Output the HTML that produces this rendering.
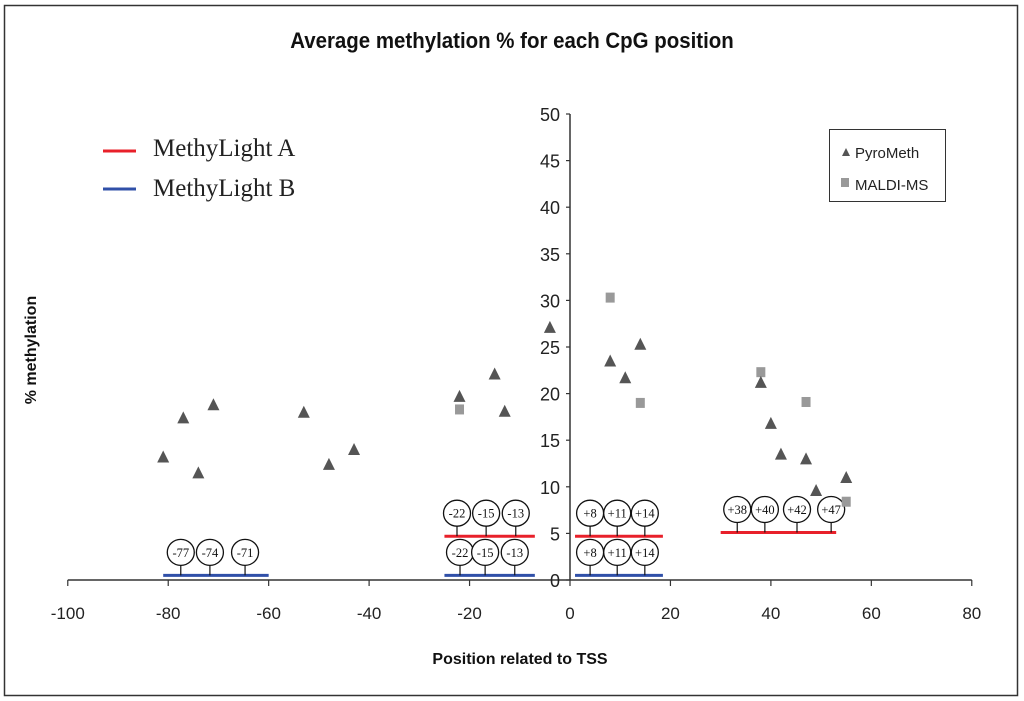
<!DOCTYPE html>
<html><head><meta charset="utf-8"><style>
html,body{margin:0;padding:0;background:#fff;width:1024px;height:701px;overflow:hidden}
svg{display:block}
</style></head><body>
<svg id="chart" width="1024" height="701" xmlns="http://www.w3.org/2000/svg">
<rect x="4.5" y="5.5" width="1013" height="690" fill="#fff" stroke="#333" stroke-width="1.5"/>
<text x="512" y="48" text-anchor="middle" font-family="Liberation Sans, sans-serif" font-weight="bold" font-size="22" fill="#111" transform="translate(512 0) scale(0.93 1) translate(-512 0)">Average methylation % for each CpG position</text>
<text x="36" y="350" transform="rotate(-90 36 350)" text-anchor="middle" font-family="Liberation Sans, sans-serif" font-weight="bold" font-size="16" fill="#111">% methylation</text>
<text x="520" y="664" text-anchor="middle" font-family="Liberation Sans, sans-serif" font-weight="bold" font-size="16" fill="#111">Position related to TSS</text>
<g>
<line x1="103" y1="151" x2="136" y2="151" stroke="#e8202a" stroke-width="3"/>
<text x="153" y="156" font-family="Liberation Serif, serif" font-size="25" fill="#222">MethyLight A</text>
<line x1="103" y1="189" x2="136" y2="189" stroke="#3050a8" stroke-width="3"/>
<text x="153" y="196" font-family="Liberation Serif, serif" font-size="25" fill="#222">MethyLight B</text>
</g>
<g>
<rect x="829.5" y="129.5" width="116" height="72" fill="#fff" stroke="#333" stroke-width="1"/>
<polygon points="842,156 850,156 846,148" fill="#555"/>
<text x="855" y="158" font-family="Liberation Sans, sans-serif" font-size="15" fill="#222">PyroMeth</text>
<rect x="841" y="178" width="8" height="9" fill="#999"/>
<text x="855" y="190" font-family="Liberation Sans, sans-serif" font-size="15" fill="#222">MALDI-MS</text>
</g>
<g id="axes"></g>
<g id="annots"></g>
<g id="marks"></g>
</svg>
<script>
const xTicks=[-100,-80,-60,-40,-20,0,20,40,60,80];
const yTicks=[0,5,10,15,20,25,30,35,40,45,50];
const pyroX=[-81,-77,-74,-71,-53,-48,-43,-22,-15,-13,-4,8,11,14,38,40,42,47,49,55];
const pyroY=[13.2,17.4,11.5,18.8,18.0,12.4,14.0,19.7,22.1,18.1,27.1,23.5,21.7,25.3,21.2,16.8,13.5,13.0,9.6,11.0];
const maldiX=[-22,8,14,38,47,55];
const maldiY=[18.3,30.3,19.0,22.3,19.1,8.4];
const annotLines=[
 {color:"#3050a8",y:0.5,x0:-81,x1:-60,labels:["-77","-74","-71"],pos:[-77.5,-71.7,-64.7]},
 {color:"#e8202a",y:4.7,x0:-25,x1:-7,labels:["-22","-15","-13"],pos:[-22.5,-16.7,-10.8]},
 {color:"#3050a8",y:0.5,x0:-25,x1:-7,labels:["-22","-15","-13"],pos:[-21.9,-16.9,-11]},
 {color:"#e8202a",y:4.7,x0:1,x1:18.5,labels:["+8","+11","+14"],pos:[4,9.4,14.9]},
 {color:"#3050a8",y:0.5,x0:1,x1:18.5,labels:["+8","+11","+14"],pos:[4,9.4,14.9]},
 {color:"#e8202a",y:5.1,x0:30,x1:53,labels:["+38","+40","+42","+47"],pos:[33.3,38.8,45.2,52]}
];
const X=v=>570+(v)*904/180;
const Y=v=>580-v*466/50;
const NS="http://www.w3.org/2000/svg";
function mk(tag,attrs,parent){const e=document.createElementNS(NS,tag);for(const k in attrs)e.setAttribute(k,attrs[k]);parent.appendChild(e);return e;}
const axes=document.getElementById('axes');
let xa=mk('line',{x1:X(-100),y1:580,x2:X(80),y2:580,stroke:'#333','stroke-width':1.5},axes);


let ya=mk('line',{x1:570,y1:Y(0),x2:570,y2:Y(50),stroke:'#333','stroke-width':1.5},axes);


xTicks.forEach(t=>{
 const l=mk('line',{x1:X(t),y1:580,x2:X(t),y2:586,stroke:'#333','stroke-width':1.2},axes);
 
 
 const tx=mk('text',{x:X(t),y:619,'text-anchor':'middle','font-family':'Liberation Sans, sans-serif','font-size':17,fill:'#222'},axes);
 tx.textContent=t;
 
 
});
yTicks.forEach(t=>{
 const l=mk('line',{x1:566,y1:Y(t),x2:570,y2:Y(t),stroke:'#333','stroke-width':1.2},axes);
 
 
 const tx=mk('text',{x:560,y:Y(t)+7,'text-anchor':'end','font-family':'Liberation Sans, sans-serif','font-size':18,fill:'#222'},axes);
 tx.textContent=t;
 
 
});
const an=document.getElementById('annots');
annotLines.forEach(a=>{
 const ly=Y(a.y);
 const l=mk('line',{x1:X(a.x0),y1:ly,x2:X(a.x1),y2:ly,stroke:a.color,'stroke-width':3},an);
 
 
 a.labels.forEach((lab,i)=>{
  const cx=X(a.pos[i]);const cy=ly-23;
  const s=mk('line',{x1:cx,y1:ly,x2:cx,y2:cy+12,stroke:'#111','stroke-width':1.2},an);
  
  
  const e=mk('ellipse',{cx:cx,cy:cy,rx:13.5,ry:13,fill:'#fff',stroke:'#111','stroke-width':1.3},an);
  
  
  const t=mk('text',{x:cx,y:cy+4.5,'text-anchor':'middle','font-family':'Liberation Serif, serif','font-size':12.5,fill:'#111'},an);
  t.textContent=lab;
  
  
 });
});
const mg=document.getElementById('marks');
maldiX.forEach((x,i)=>{
 const px=X(x),py=Y(maldiY[i]);
 const r=mk('rect',{x:px-4.5,y:py-5,width:9,height:10,fill:'#999'},mg);
 
 
});
pyroX.forEach((x,i)=>{
 const px=X(x),py=Y(pyroY[i]);
 const p=mk('polygon',{points:`${px-6},${py+5.5} ${px+6},${py+5.5} ${px},${py-6.5}`,fill:'#555'},mg);
 
 
});
</script>
</body></html>
